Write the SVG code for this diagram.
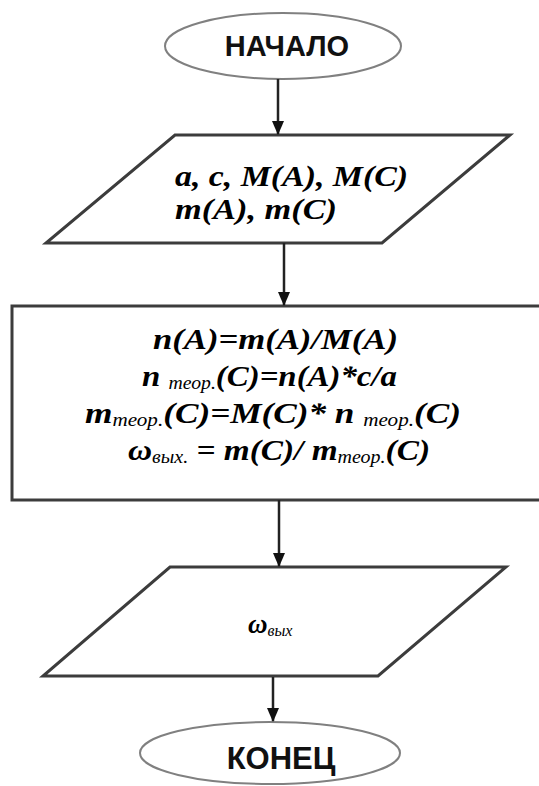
<svg xmlns="http://www.w3.org/2000/svg" width="539" height="786" viewBox="0 0 539 786">
  <style>
    .term { fill: #fff; stroke: #808080; stroke-width: 2; }
    .box { fill: #fff; stroke: #3c3c3c; stroke-width: 3; }
    .lbl { font-family: 'Liberation Sans', Arial, sans-serif; font-weight: bold; font-size: 29px; fill: #111; text-anchor: middle; }
    .math { font-family: 'Liberation Serif', 'DejaVu Serif', serif; font-weight: 700; font-style: italic; font-size: 30px; fill: #000; }
    .sub { font-size: 18px; font-weight: 400; }
    .conn { stroke: #222; stroke-width: 2.5; fill: none; marker-end: url(#arr); }
  </style>
  <defs>
    <marker id="arr" markerUnits="userSpaceOnUse" markerWidth="14" markerHeight="12" refX="13" refY="6" orient="auto" viewBox="0 0 14 12">
      <path d="M0,0 L14,6 L0,12 Z" fill="#111"/>
    </marker>
  </defs>
  <rect width="539" height="786" fill="#fff"/>

  <g id="start">
    <ellipse class="term" cx="283" cy="46" rx="118" ry="33"/>
    <text class="lbl" x="287" y="56">НАЧАЛО</text>
  </g>

  <g id="input">
    <polygon class="box" points="175,135 510,135 382,243 46,243"/>
    <text class="math" x="175" y="186" textLength="233" lengthAdjust="spacingAndGlyphs">a, c, M(A), M(C)</text>
    <text class="math" x="175" y="219" textLength="162" lengthAdjust="spacingAndGlyphs">m(A), m(C)</text>
  </g>

  <g id="process">
    <rect class="box" x="12" y="306" width="545" height="194"/>
    <text class="math" x="153" y="349" textLength="245" lengthAdjust="spacingAndGlyphs">n(A)=m(A)/M(A)</text>
    <text class="math" x="142" y="386" textLength="255" lengthAdjust="spacingAndGlyphs">n <tspan class="sub" dy="3">теор.</tspan><tspan dy="-3">(C)=n(A)*c/a</tspan></text>
    <text class="math" x="85" y="423" textLength="376" lengthAdjust="spacingAndGlyphs">m<tspan class="sub" dy="3">теор.</tspan><tspan dy="-3">(C)=M(C)* n </tspan><tspan class="sub" dy="3">теор.</tspan><tspan dy="-3">(C)</tspan></text>
    <text class="math" x="128" y="460" textLength="302" lengthAdjust="spacingAndGlyphs">ω<tspan class="sub" dy="3">вых.</tspan><tspan dy="-3"> = m(C)/ m</tspan><tspan class="sub" dy="3">теор.</tspan><tspan dy="-3">(C)</tspan></text>
  </g>

  <g id="output">
    <polygon class="box" points="170,567 506,567 378,676 43,676"/>
    <text class="math" x="248" y="633" style="font-size:27px">ω<tspan class="sub" dy="3" style="font-size:16px">вых</tspan></text>
  </g>

  <g id="end">
    <ellipse class="term" cx="270" cy="753" rx="130" ry="31"/>
    <text class="lbl" x="281" y="769" style="font-size:31px">КОНЕЦ</text>
  </g>

  <g id="connectors">
    <line class="conn" x1="278" y1="79" x2="278" y2="134"/>
    <line class="conn" x1="284" y1="243" x2="284" y2="305"/>
    <line class="conn" x1="279" y1="500" x2="279" y2="566"/>
    <line class="conn" x1="273" y1="677" x2="273" y2="721"/>
  </g>
</svg>
